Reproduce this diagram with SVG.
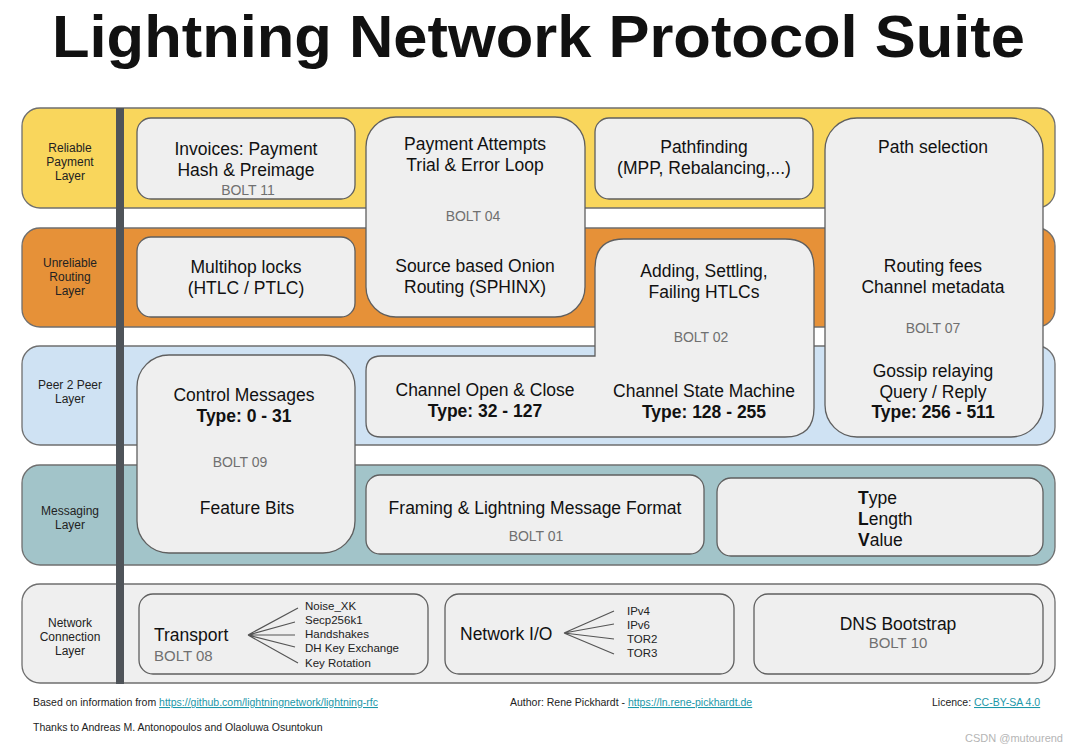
<svg xmlns="http://www.w3.org/2000/svg" width="1069" height="751" viewBox="0 0 1069 751">
<style>
text{font-family:"Liberation Sans",Arial,sans-serif;fill:#111}
.layer{stroke:#6f6f6f;stroke-width:1.3}
.lbl{font-size:12px;text-anchor:middle;fill:#222}
.node{fill:#efefef;stroke:#5f5f5f;stroke-width:1.3}
.t{font-size:17.5px;text-anchor:middle}
.b{font-weight:bold}
.bolt{font-size:14px;text-anchor:middle;fill:#707070}
.sm{font-size:11.5px;fill:#222}
.fan{stroke:#555;stroke-width:1.2;fill:none}
.foot{font-size:10.5px;fill:#222}
.link{fill:#1b97a8;text-decoration:underline}
</style>
<rect width="1069" height="751" fill="#ffffff"/>
<text x="52" y="57" font-size="60" font-weight="bold" textLength="973" lengthAdjust="spacingAndGlyphs" fill="#000">Lightning Network Protocol Suite</text>

<g id="layers">
<g id="layer-reliable"><rect class="layer" x="22" y="108" width="1033" height="100" rx="18" fill="#f9d65c"/>
<text class="lbl" x="70" y="152">Reliable</text><text class="lbl" x="70" y="166">Payment</text><text class="lbl" x="70" y="180">Layer</text></g>
<g id="layer-unreliable"><rect class="layer" x="22" y="228" width="1033" height="99" rx="18" fill="#e69138"/>
<text class="lbl" x="70" y="267">Unreliable</text><text class="lbl" x="70" y="281">Routing</text><text class="lbl" x="70" y="295">Layer</text></g>
<g id="layer-p2p"><rect class="layer" x="22" y="346" width="1033" height="99" rx="18" fill="#cfe2f3"/>
<text class="lbl" x="70" y="389">Peer 2 Peer</text><text class="lbl" x="70" y="403">Layer</text></g>
<g id="layer-messaging"><rect class="layer" x="22" y="465" width="1033" height="100" rx="18" fill="#a2c4c9"/>
<text class="lbl" x="70" y="515">Messaging</text><text class="lbl" x="70" y="529">Layer</text></g>
<g id="layer-network"><rect class="layer" x="22" y="584" width="1033" height="99" rx="18" fill="#efefef"/>
<text class="lbl" x="70" y="627">Network</text><text class="lbl" x="70" y="641">Connection</text><text class="lbl" x="70" y="655">Layer</text></g>
</g>
<rect id="bar" x="116" y="108" width="8" height="576" fill="#4f5459"/>

<g id="invoices"><rect class="node" x="137" y="118" width="218" height="81" rx="14"/>
<text class="t" x="246" y="155">Invoices: Payment</text><text class="t" x="246" y="176">Hash &amp; Preimage</text><text class="bolt" x="248" y="195">BOLT 11</text></g>

<g id="bolt04"><rect class="node" x="366" y="117" width="219" height="200" rx="30"/>
<text class="t" x="475" y="150">Payment Attempts</text><text class="t" x="475" y="171">Trial &amp; Error Loop</text>
<text class="bolt" x="473" y="221">BOLT 04</text>
<text class="t" x="475" y="272">Source based Onion</text><text class="t" x="475" y="293">Routing (SPHINX)</text></g>

<g id="pathfinding"><rect class="node" x="595" y="118" width="218" height="81" rx="14"/>
<text class="t" x="704" y="153">Pathfinding</text><text class="t" x="704" y="174">(MPP, Rebalancing,...)</text></g>

<g id="bolt07"><rect class="node" x="825" y="118" width="218" height="319" rx="32"/>
<text class="t" x="933" y="153">Path selection</text>
<text class="t" x="933" y="272">Routing fees</text><text class="t" x="933" y="293">Channel metadata</text>
<text class="bolt" x="933" y="333">BOLT 07</text>
<text class="t" x="933" y="377">Gossip relaying</text><text class="t" x="933" y="398">Query / Reply</text><text class="t b" x="933" y="418">Type: 256 - 511</text></g>

<g id="multihop"><rect class="node" x="137" y="237" width="218" height="80" rx="14"/>
<text class="t" x="246" y="273">Multihop locks</text><text class="t" x="246" y="294">(HTLC / PTLC)</text></g>

<g id="bolt02"><path class="node" d="M381,356 L595,356 L595,268 Q595,239 624,239 L785,239 Q814,239 814,268 L814,408 Q814,437 785,437 L381,437 Q366,437 366,422 L366,371 Q366,356 381,356 Z"/>
<text class="t" x="704" y="277">Adding, Settling,</text><text class="t" x="704" y="298">Failing HTLCs</text>
<text class="bolt" x="701" y="342">BOLT 02</text>
<text class="t" x="485" y="396">Channel Open &amp; Close</text><text class="t b" x="485" y="417">Type: 32 - 127</text>
<text class="t" x="704" y="397">Channel State Machine</text><text class="t b" x="704" y="418">Type: 128 - 255</text></g>

<g id="bolt09"><rect class="node" x="137" y="355" width="218" height="198" rx="32"/>
<text class="t" x="244" y="401">Control Messages</text><text class="t b" x="244" y="422">Type: 0 - 31</text>
<text class="bolt" x="240" y="467">BOLT 09</text>
<text class="t" x="247" y="514">Feature Bits</text></g>

<g id="bolt01"><rect class="node" x="366" y="475" width="338" height="79" rx="14"/>
<text class="t" x="535" y="514">Framing &amp; Lightning Message Format</text><text class="bolt" x="536" y="541">BOLT 01</text></g>

<g id="tlv"><rect class="node" x="717" y="478" width="326" height="78" rx="14"/>
<text class="t" x="858" y="504" text-anchor="start" style="text-anchor:start"><tspan class="b">T</tspan>ype</text>
<text class="t" x="858" y="525" style="text-anchor:start"><tspan class="b">L</tspan>ength</text>
<text class="t" x="858" y="546" style="text-anchor:start"><tspan class="b">V</tspan>alue</text></g>

<g id="bolt08"><rect class="node" x="139" y="594" width="289" height="80" rx="14"/>
<text class="t" x="154" y="641" style="text-anchor:start">Transport</text>
<text class="bolt" x="154" y="661" style="text-anchor:start;font-size:15px">BOLT 08</text>
<text class="sm" x="305" y="610">Noise_XK</text><text class="sm" x="305" y="624">Secp256k1</text><text class="sm" x="305" y="638">Handshakes</text><text class="sm" x="305" y="652">DH Key Exchange</text><text class="sm" x="305" y="667">Key Rotation</text></g>

<g id="networkio"><rect class="node" x="445" y="594" width="289" height="80" rx="14"/>
<text class="t" x="460" y="640" style="text-anchor:start">Network I/O</text>
<text class="sm" x="627" y="615" font-size="11">IPv4</text><text class="sm" x="627" y="629" font-size="11">IPv6</text><text class="sm" x="627" y="643" font-size="11">TOR2</text><text class="sm" x="627" y="657" font-size="11">TOR3</text></g>

<g id="bolt10"><rect class="node" x="754" y="594" width="289" height="80" rx="14"/>
<text class="t" x="898" y="630">DNS Bootstrap</text><text class="bolt" x="898" y="648" style="font-size:15px">BOLT 10</text></g>

<g id="connectors">
<path class="fan" d="M248,635 L298,608 M248,635 L295,622 M248,635 L295,635 M248,635 L295,647 M248,635 L298,663"/>
<path class="fan" d="M564,633 L614,611 M564,633 L614,624 M564,633 L614,639 M564,633 L614,654"/>
</g>

<g id="footer">
<text class="foot" x="33" y="706">Based on information from <tspan class="link">https://github.com/lightningnetwork/lightning-rfc</tspan></text>
<text class="foot" x="33" y="731">Thanks to Andreas M. Antonopoulos and Olaoluwa Osuntokun</text>
<text class="foot" x="510" y="706">Author: Rene Pickhardt - <tspan class="link">https://ln.rene-pickhardt.de</tspan></text>
<text class="foot" x="932" y="706">Licence: <tspan class="link">CC-BY-SA 4.0</tspan></text>
<text x="965" y="742" font-size="11" fill="#b5b5b5" style="fill:#b5b5b5">CSDN @mutourend</text>
</g>
</svg>
